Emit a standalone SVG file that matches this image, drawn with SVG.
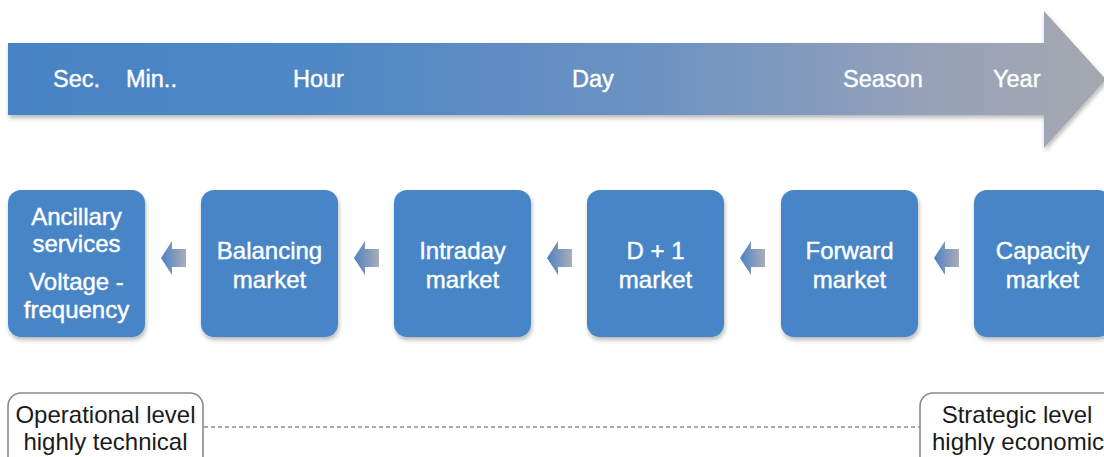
<svg xmlns="http://www.w3.org/2000/svg" width="1104" height="457" viewBox="0 0 1104 457">
<defs>
<linearGradient id="bigGrad" x1="8" y1="0" x2="1104" y2="0" gradientUnits="userSpaceOnUse">
<stop offset="0" stop-color="#4683C5"/>
<stop offset="0.3" stop-color="#5088C4"/>
<stop offset="0.6" stop-color="#6E93C2"/>
<stop offset="0.85" stop-color="#97A2B8"/>
<stop offset="1" stop-color="#A6A8B0"/>
</linearGradient>
<linearGradient id="smallGrad" x1="0" y1="0" x2="1" y2="0">
<stop offset="0" stop-color="#4F82C2"/>
<stop offset="1" stop-color="#A9ADB8"/>
</linearGradient>
<filter id="shadow" x="-10%" y="-10%" width="125%" height="130%">
<feDropShadow dx="1" dy="3" stdDeviation="2" flood-color="#000" flood-opacity="0.28"/>
</filter>
<symbol id="smallArrow" viewBox="0 0 25 34" width="25" height="34">
<path d="M0 17 L11 0 L11 8 L25 8 L25 26 L11 26 L11 34 Z" fill="url(#smallGrad)"/>
</symbol>
</defs>
<style>
.scale { font-family: "Liberation Sans", Arial, sans-serif; font-size: 23.5px; fill: #FFFFFF; stroke: #FFFFFF; stroke-width: 0.4; }
.box { fill: #4785C6; filter: url(#shadow); }
.boxText { font-family: "Liberation Sans", Arial, sans-serif; font-size: 24px; fill: #FFFFFF; stroke: #FFFFFF; stroke-width: 0.4; text-anchor: middle; }
.level { fill: #FFFFFF; stroke: #8A8A8A; stroke-width: 1.6; }
.levelText { font-family: "Liberation Sans", Arial, sans-serif; font-size: 24px; fill: #1A1A1A; text-anchor: middle; }
</style>

<g id="timeline">
<path d="M8 43 L1044 43 L1044 11 L1106 79.5 L1044 148 L1044 115 L8 115 Z" fill="url(#bigGrad)" filter="url(#shadow)"/>
<text class="scale" x="53" y="87">Sec.</text>
<text class="scale" x="126" y="87">Min..</text>
<text class="scale" x="293" y="87">Hour</text>
<text class="scale" x="572" y="87">Day</text>
<text class="scale" x="843" y="87">Season</text>
<text class="scale" x="993" y="87">Year</text>
</g>

<g id="ancillary">
<rect class="box" x="8" y="190" width="137" height="147" rx="13"/>
<text class="boxText" x="76.5" y="225">Ancillary</text>
<text class="boxText" x="76.5" y="252">services</text>
<text class="boxText" x="76.5" y="290">Voltage -</text>
<text class="boxText" x="76.5" y="318">frequency</text>
</g>
<g id="balancing">
<rect class="box" x="201" y="190" width="137" height="147" rx="13"/>
<text class="boxText" x="269.5" y="259">Balancing</text>
<text class="boxText" x="269.5" y="288">market</text>
</g>
<g id="intraday">
<rect class="box" x="394" y="190" width="137" height="147" rx="13"/>
<text class="boxText" x="462.5" y="259">Intraday</text>
<text class="boxText" x="462.5" y="288">market</text>
</g>
<g id="dayahead">
<rect class="box" x="587" y="190" width="137" height="147" rx="13"/>
<text class="boxText" x="655.5" y="259">D + 1</text>
<text class="boxText" x="655.5" y="288">market</text>
</g>
<g id="forward">
<rect class="box" x="781" y="190" width="137" height="147" rx="13"/>
<text class="boxText" x="849.5" y="259">Forward</text>
<text class="boxText" x="849.5" y="288">market</text>
</g>
<g id="capacity">
<rect class="box" x="974" y="190" width="137" height="147" rx="13"/>
<text class="boxText" x="1042.5" y="259">Capacity</text>
<text class="boxText" x="1042.5" y="288">market</text>
</g>

<g id="connectors">
<use href="#smallArrow" x="161" y="241"/>
<use href="#smallArrow" x="354" y="241"/>
<use href="#smallArrow" x="547" y="241"/>
<use href="#smallArrow" x="740" y="241"/>
<use href="#smallArrow" x="934" y="241"/>
<line x1="204" y1="427" x2="920" y2="427" stroke="#8E8E8E" stroke-width="1.5" stroke-dasharray="4 3"/>
</g>

<g id="operational">
<rect class="level" x="8" y="393" width="195" height="90" rx="13"/>
<text class="levelText" x="105.5" y="423">Operational level</text>
<text class="levelText" x="105.5" y="450">highly technical</text>
</g>
<g id="strategic">
<rect class="level" x="920" y="393" width="200" height="90" rx="13"/>
<text class="levelText" x="1017" y="423">Strategic level</text>
<text class="levelText" x="1018" y="450">highly economic</text>
</g>
</svg>
